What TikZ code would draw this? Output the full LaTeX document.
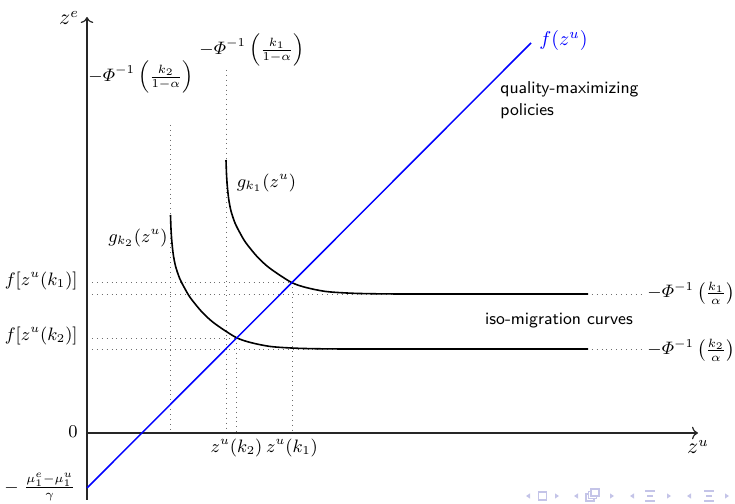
\documentclass[tikz,border=0pt]{standalone}
\usepackage{amsmath}
\usetikzlibrary{arrows.meta}
\definecolor{navcol}{RGB}{196,196,232}
\definecolor{dotgray}{RGB}{110,110,110}
\tikzset{
  axisline/.style={line width=0.6pt, draw=black!85},
  guide/.style={dotted, line width=0.45pt, draw=dotgray},
  curve/.style={line width=0.8pt, draw=black},
  bluel/.style={line width=0.75pt, draw=blue},
  lbl/.style={inner sep=0pt, font=\fontsize{8.7}{10.5}\selectfont},
  axlbl/.style={inner sep=0pt, font=\fontsize{10.5}{12}\selectfont},
  sftext/.style={inner sep=0pt, font=\sffamily\fontsize{8.6}{11}\selectfont, align=left},
  navl/.pic={\fill[navcol] (2,-2.6) -- (2,2.6) -- (-2,0) -- cycle;},
  navr/.pic={\fill[navcol] (-2,-2.6) -- (-2,2.6) -- (2,0) -- cycle;}
}
\newcommand{\isocurve}{(0,134) (0.5,120) (1.3,108) (2.7,95) (5,83) (9,71) (14.3,60.5) (20,51) (31,37.5) (41,28) (51,20.7) (66,11.3) (80,6.5) (100,2.5) (125,0.8) (150,0.2) (175,0)}
\begin{document}
\begin{tikzpicture}[x=0.5pt,y=0.5pt]
\useasboundingbox (0,0) rectangle (735,504);
% axes
\coordinate (O) at (87,71);
\coordinate (ybot) at (87,4);
\coordinate (ytop) at (87,487);
\coordinate (xend) at (698,71);
% guide coordinates
\coordinate (P1) at (292,221.4);
\coordinate (P2) at (236.5,165.8);
\coordinate (A1l) at (87,210);
\coordinate (A1r) at (645,210);
\coordinate (A2l) at (87,155);
\coordinate (A2r) at (645,155);
\coordinate (V2t) at (170.5,379);
\coordinate (V2b) at (170.5,71);
\coordinate (V1t) at (226,434);
\coordinate (V1b) at (226,71);
% dotted guides
\draw[guide] (A1l) -- (A1r);
\draw[guide] (A2l) -- (A2r);
\draw[guide] (V2t) -- (V2b);
\draw[guide] (V1t) -- (V1b);
\draw[guide] (87,221.4) -- (P1);
\draw[guide] (87,165.8) -- (P2);
\draw[guide] (P1) -- (292,71);
\draw[guide] (P2) -- (236.5,71);
% axes
\draw[axisline,-{To[length=3pt]}] (ybot) -- (ytop);
\draw[axisline,-{To[length=3pt]}] (O) -- (xend);
% iso-migration curves
\draw[curve, shift={(226,210)}] plot[smooth] coordinates {\isocurve} -- (362,0);
\draw[curve, shift={(170.5,155)}] plot[smooth] coordinates {\isocurve} -- (417.5,0);
% blue line
\coordinate (B0) at (87,16);
\coordinate (B1) at (531,461);
\draw[bluel] (B0) -- (B1);
\node[lbl, anchor=west, text=blue, font=\fontsize{9.6}{11}\selectfont] (flab) at (539,463) {$f(z^u)$};
% labels
\node[axlbl] (ze) at (69,486) {$z^e$};
\node[axlbl] (zu) at (698,57) {$z^u$};
\node[lbl, anchor=east] (zero) at (78,72) {$0$};
\node[lbl, anchor=east] (muf) at (76,17) {$-\;\frac{\mu_1^e-\mu_1^u}{\gamma}$};
\node[lbl, anchor=east] (fk1) at (78,223) {$f[z^u(k_1)]$};
\node[lbl, anchor=east] (fk2) at (78,168) {$f[z^u(k_2)]$};
\node[lbl] (zk2) at (236.5,56) {$z^u(k_2)$};
\node[lbl] (zk1) at (292,56) {$z^u(k_1)$};
\node[lbl] (phi2t) at (141,427) {$-\varPhi^{-1}\left(\frac{k_2}{1-\alpha}\right)$};
\node[lbl] (phi1t) at (252,454) {$-\varPhi^{-1}\left(\frac{k_1}{1-\alpha}\right)$};
\node[lbl, anchor=west] (phi1r) at (647,211) {$-\varPhi^{-1}\left(\frac{k_1}{\alpha}\right)$};
\node[lbl, anchor=west] (phi2r) at (647,154) {$-\varPhi^{-1}\left(\frac{k_2}{\alpha}\right)$};
\node[lbl] (gk2) at (138,266) {$g_{k_2}(z^u)$};
\node[lbl] (gk1) at (266.5,321) {$g_{k_1}(z^u)$};
\node[sftext] (iso) at (559,183) {iso-migration curves};
\node[sftext, anchor=west] (qual) at (500,404) {quality-maximizing\\policies};
% navigation symbols
\pic at (528,8) {navl};
\draw[navcol, line width=0.6pt] (538.5,4) rectangle (546.5,12);
\pic at (557,8) {navr};
\pic at (576,8) {navl};
\draw[navcol, line width=0.6pt, fill=white] (586,3) rectangle (594,10);
\draw[navcol, line width=0.6pt, fill=white] (588.5,5.5) rectangle (596.5,12.5);
\draw[navcol, line width=0.6pt, fill=white] (591,8) rectangle (599,15);
\pic at (612,8) {navr};
\pic at (632,8) {navl};
\draw[navcol, line width=0.8pt] (645,13) -- (655,13) (647,8) -- (653,8) (645,3) -- (655,3);
\pic at (669,8) {navr};
\pic at (689,8) {navl};
\draw[navcol, line width=0.8pt] (704,13) -- (714,13) (706,8) -- (712,8) (704,3) -- (714,3);
\pic at (727,8) {navr};
\end{tikzpicture}
\end{document}
